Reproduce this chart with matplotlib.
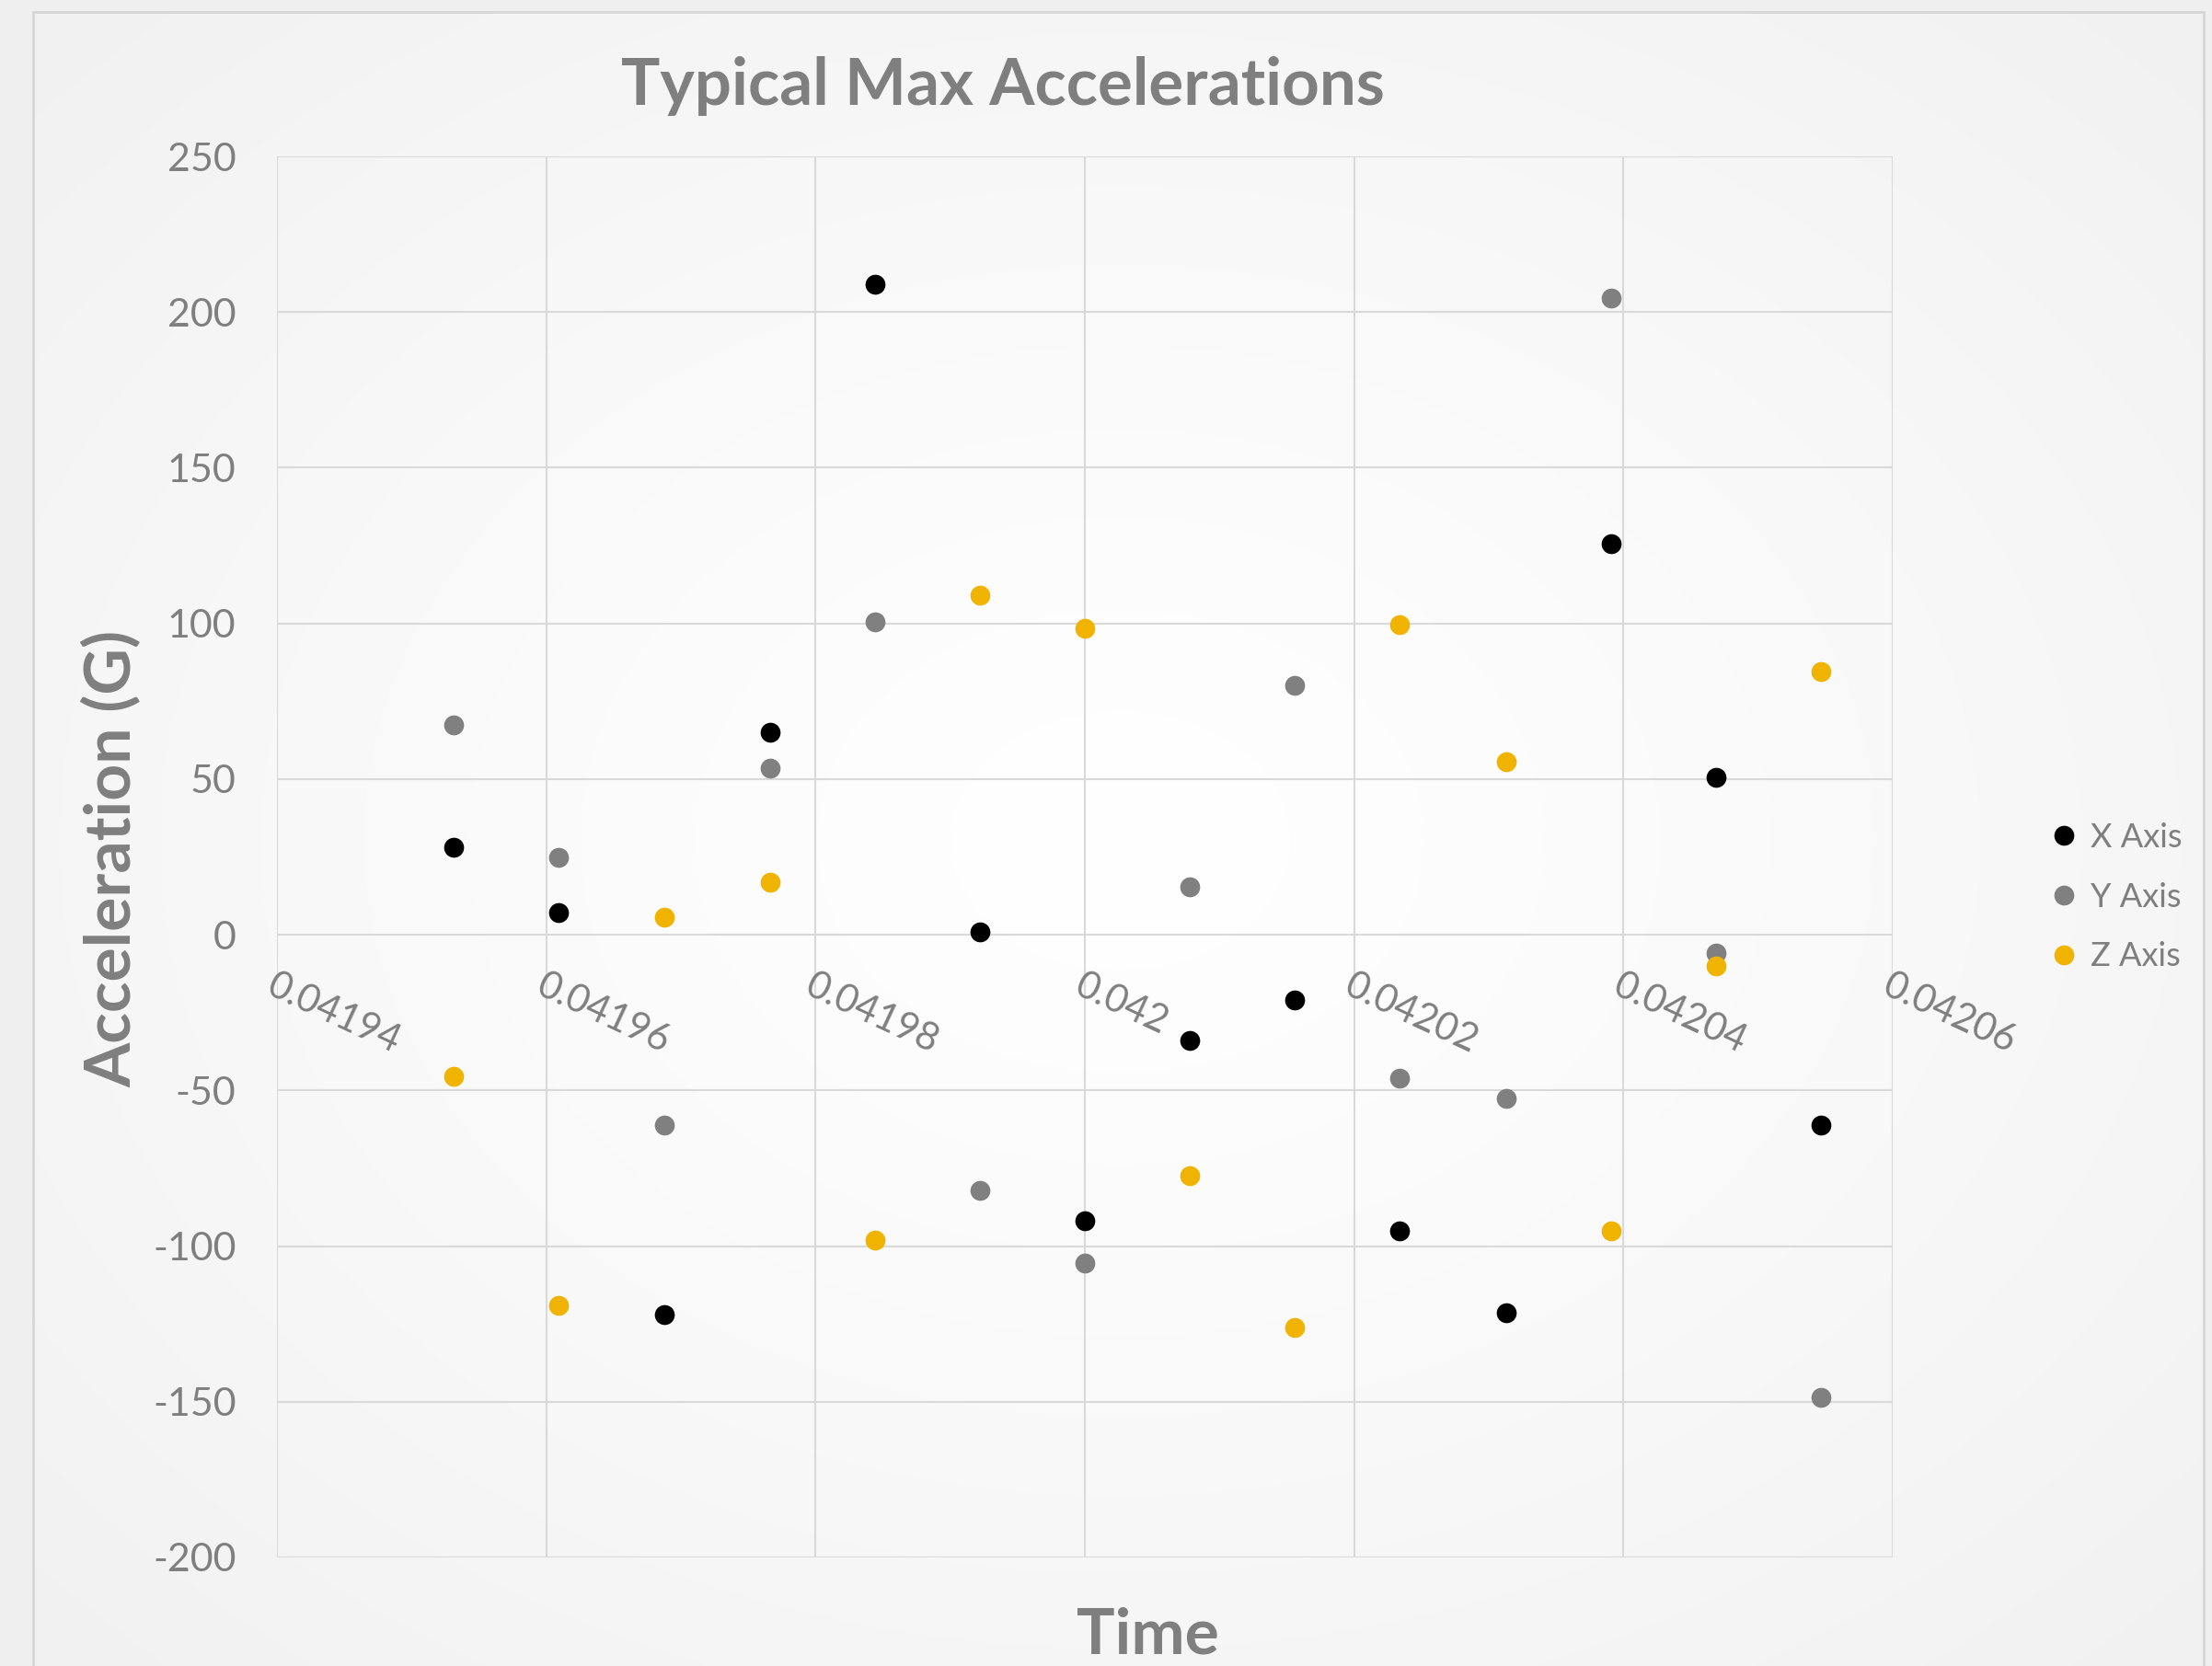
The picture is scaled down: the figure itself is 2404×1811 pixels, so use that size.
import numpy as np
import matplotlib
matplotlib.use("Agg")
import matplotlib.pyplot as plt
from matplotlib.patches import Rectangle

plt.rcParams['font.family'] = ['Lato', 'DejaVu Sans']

# ---------------- data ----------------
time_s = [0.0419531, 0.0419609, 0.0419688, 0.0419766, 0.0419844, 0.0419922, 0.0420000,
          0.0420078, 0.0420156, 0.0420234, 0.0420313, 0.0420391, 0.0420469, 0.0420547]
x_axis = [28, 7, -122, 65, 209, 1, -92, -34, -21, -95, -121.5, 125.5, 50.5, -61]
y_axis = [67.5, 25, -61, 53.5, 100.5, -82, -105.5, 15.5, 80, -46, -52.5, 204.5, -6, -148.5]
z_axis = [-45.5, -119, 5.5, 17, -98, 109, 98.5, -77.5, -126, 99.5, 55.5, -95, -10, 84.5]
series_names = ["X Axis", "Y Axis", "Z Axis"]
series_colors = ["#000000", "#808080", "#f0b400"]
x_ticks = [0.04194, 0.04196, 0.04198, 0.042, 0.04202, 0.04204, 0.04206]
x_tick_labels = ["0.04194", "0.04196", "0.04198", "0.042", "0.04202", "0.04204", "0.04206"]
y_ticks = [-200, -150, -100, -50, 0, 50, 100, 150, 200, 250]
y_tick_labels = ["-200", "-150", "-100", "-50", "0", "50", "100", "150", "200", "250"]

W, H = 2404, 1811
DPI = 200
TXT = "#7f7f7f"
GRID = "#d9d9d9"

fig = plt.figure(figsize=(W / DPI, H / DPI), dpi=DPI)
fig.patch.set_facecolor("#efefef")

# ---------- chart-area background (radial gradient) ----------
cl, cr, ct = 36, 2395, 13
bg = fig.add_axes([cl / W, 0, (cr - cl) / W, (H - ct) / H], zorder=-10)
gw, gh = 600, 450
yy, xx = np.mgrid[0:gh, 0:gw]
cx, cy = gw * 0.50, gh * 0.50
d = np.sqrt(((xx - cx) / gw) ** 2 + ((yy - cy) / gh) ** 2)
d = d / d.max()
v = 1.0 - (1.0 - 0.945) * np.clip(d, 0, 1) ** 1.2
img = np.dstack([v, v, v])
bg.imshow(img, aspect="auto", extent=[0, 1, 0, 1], interpolation="bilinear")
bg.set_xlim(0, 1)
bg.set_ylim(0, 1)
bg.axis("off")
fig.patches.append(Rectangle((cl / W, -0.01), (cr - cl) / W, (H - ct) / H + 0.01,
                             transform=fig.transFigure, fill=False,
                             edgecolor="#d6d6d6", linewidth=1.0, zorder=-5))

# ---------------- plot area ----------------
pl, pr, pt, pb = 301, 2057, 170, 1693
ax = fig.add_axes([pl / W, 1 - pb / H, (pr - pl) / W, (pb - pt) / H])
ax.set_facecolor("none")

ax.set_xlim(x_ticks[0], x_ticks[-1])
ax.set_ylim(y_ticks[0], y_ticks[-1])
ax.set_xticks(x_ticks)
ax.set_xticklabels(x_tick_labels)
ax.set_yticks(y_ticks)
ax.set_yticklabels(y_tick_labels)

for s in ax.spines.values():
    s.set_visible(False)
ax.spines["bottom"].set_position(("data", 0))

ax.grid(True, color=GRID, linewidth=0.75, zorder=0)
ax.set_axisbelow(True)

ax.tick_params(axis="y", length=0, pad=16, labelsize=15.5, labelcolor=TXT)
ax.tick_params(axis="x", length=0, pad=13, labelsize=15, labelcolor=TXT)
for lab in ax.get_xticklabels():
    lab.set_rotation(-25)
    lab.set_ha("left")
    lab.set_va("top")
    lab.set_rotation_mode("anchor")

for vals, name, col in zip([x_axis, y_axis, z_axis], series_names, series_colors):
    ax.plot(time_s, vals, linestyle="none", marker="o", markersize=7.8,
            color=col, markeredgewidth=0, label=name, zorder=3)

leg = ax.legend(loc="center left", bbox_to_anchor=(2225 / W, 1 - 975 / H),
                bbox_transform=fig.transFigure, frameon=False, fontsize=13,
                handlelength=1.0, handletextpad=0.3, labelspacing=0.88,
                borderpad=0, borderaxespad=0)
for t in leg.get_texts():
    t.set_color(TXT)

# ---------------- titles ----------------
fig.text(1090 / W, 1 - 114 / H, "Typical Max Accelerations", ha="center",
         va="baseline", fontsize=25.5, fontweight="bold", color=TXT)
fig.text(122 / W, 1 - 933 / H, "Acceleration (G)", ha="center", va="center",
         rotation=90, fontsize=25, fontweight="bold", color=TXT)
fig.text(1247 / W, 1 - 1798 / H, "Time", ha="center", va="baseline",
         fontsize=25, fontweight="bold", color=TXT)

fig.savefig("out.png", dpi=DPI, facecolor=fig.get_facecolor())
